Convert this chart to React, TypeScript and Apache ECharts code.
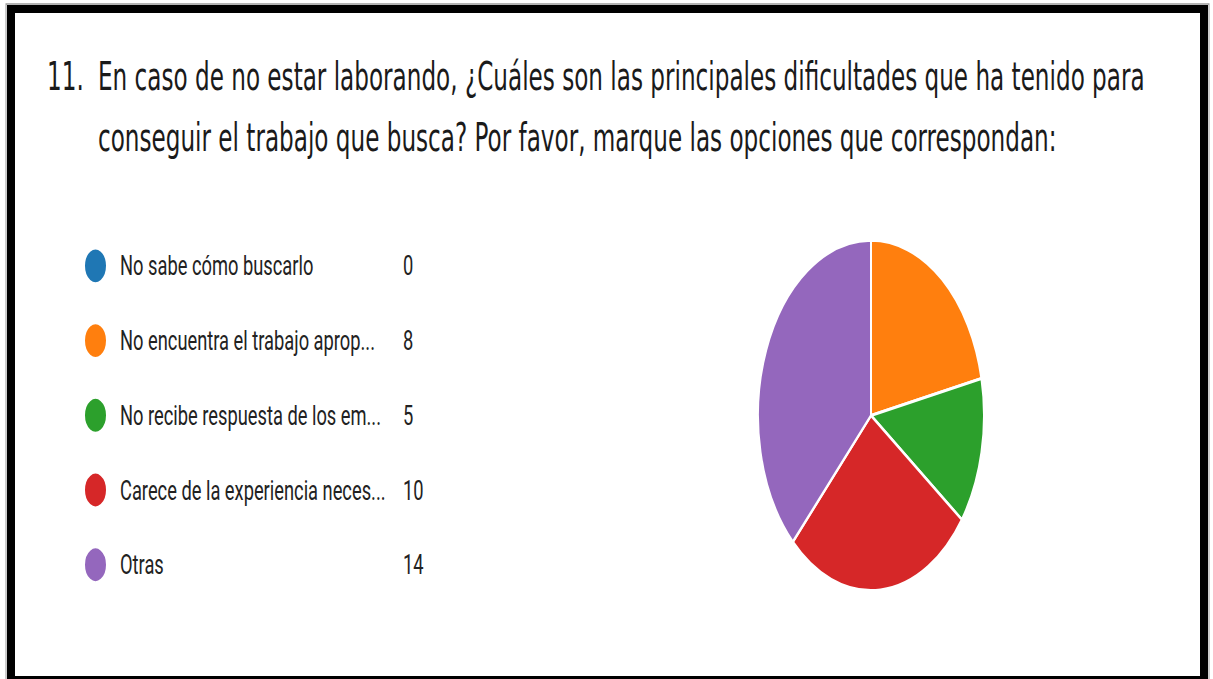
import React, { useEffect, useRef } from "react";
import * as echarts from "echarts";

const titleNumber = "11.";
const titleLines = [
  "En caso de no estar laborando, ¿Cuáles son las principales dificultades que ha tenido para",
  "conseguir el trabajo que busca? Por favor, marque las opciones que correspondan:",
];
const categories = [
  "No sabe cómo buscarlo",
  "No encuentra el trabajo aprop...",
  "No recibe respuesta de los em...",
  "Carece de la experiencia neces...",
  "Otras",
];
const values = [0, 8, 5, 10, 14];
const colors = ["#1f77b4", "#ff7f0e", "#2ca02c", "#d62728", "#9467bd"];

const W = 1213;
const H = 679;
const H0 = 438;
const S = H / H0;

export default function App() {
  const ref = useRef<HTMLDivElement>(null);
  useEffect(() => {
    if (!ref.current) return;
    const chart = echarts.init(ref.current, undefined, { renderer: "svg" });
    const titleFont = "'Liberation Sans Narrow', 'DejaVu Sans Condensed', sans-serif";
    const legendFont = "Roboto, sans-serif";
    const fs = 25.7;
    chart.setOption({
      animation: false,
      backgroundColor: "#ffffff",
      color: colors,
      legend: {
        orient: "vertical",
        left: 83,
        top: 159,
        padding: 0,
        icon: "circle",
        itemWidth: 23,
        itemHeight: 23,
        itemGap: 23.2,
        selectedMode: false,
        data: categories,
        formatter: (name: string) => {
          const i = categories.indexOf(name);
          return `{n|${name}}{v|${values[i]}}`;
        },
        textStyle: {
          color: "#222222",
          fontFamily: legendFont,
          fontSize: 18.3,
          rich: {
            n: { width: 283, padding: [0, 0, 0, 8], fontSize: 18.3, fontFamily: legendFont, color: "#222222" },
            v: { fontSize: 18.3, fontFamily: legendFont, color: "#222222" },
          },
        },
      },
      series: [
        {
          type: "pie",
          center: [871, 268],
          radius: [0, 113],
          startAngle: 90,
          clockwise: true,
          silent: true,
          label: { show: false },
          labelLine: { show: false },
          emphasis: { disabled: true },
          itemStyle: { borderColor: "#ffffff", borderWidth: 2 },
          data: categories.map((c, i) => ({ name: c, value: values[i] })),
        },
      ],
      graphic: [
        { type: "rect", shape: { x: 6, y: 2.6, width: 1203, height: 436 }, style: { fill: "none", stroke: "#9a9a9a", lineWidth: 1 }, silent: true },
        { type: "rect", shape: { x: 7, y: 3.2, width: 1201, height: 5.2 }, style: { fill: "#000000" }, silent: true },
        { type: "rect", shape: { x: 7, y: 3.2, width: 8, height: 436 }, style: { fill: "#000000" }, silent: true },
        { type: "rect", shape: { x: 1200, y: 3.2, width: 8, height: 436 }, style: { fill: "#000000" }, silent: true },
        { type: "rect", shape: { x: 7, y: 436.1, width: 1201, height: 3 }, style: { fill: "#000000" }, silent: true },
        {
          type: "text",
          x: 47,
          y: 36.3,
          style: { text: titleNumber, fill: "#1a1a1a", fontSize: fs, fontFamily: titleFont, verticalAlign: "top" },
        },
        {
          type: "text",
          x: 98,
          y: 36.3,
          style: { text: titleLines[0], fill: "#1a1a1a", fontSize: fs, fontFamily: titleFont, verticalAlign: "top" },
        },
        {
          type: "text",
          x: 98,
          y: 75.5,
          style: { text: titleLines[1], fill: "#1a1a1a", fontSize: fs, fontFamily: titleFont, verticalAlign: "top" },
        },
      ],
    });
    return () => chart.dispose();
  }, []);
  return (
    <div style={{ position: "absolute", left: 0, top: 0, width: W, height: H, overflow: "hidden", background: "#fff" }}>
      <div
        ref={ref}
        style={{ width: W, height: H0, transform: `scale(1, ${S})`, transformOrigin: "0 0" }}
      />
    </div>
  );
}
